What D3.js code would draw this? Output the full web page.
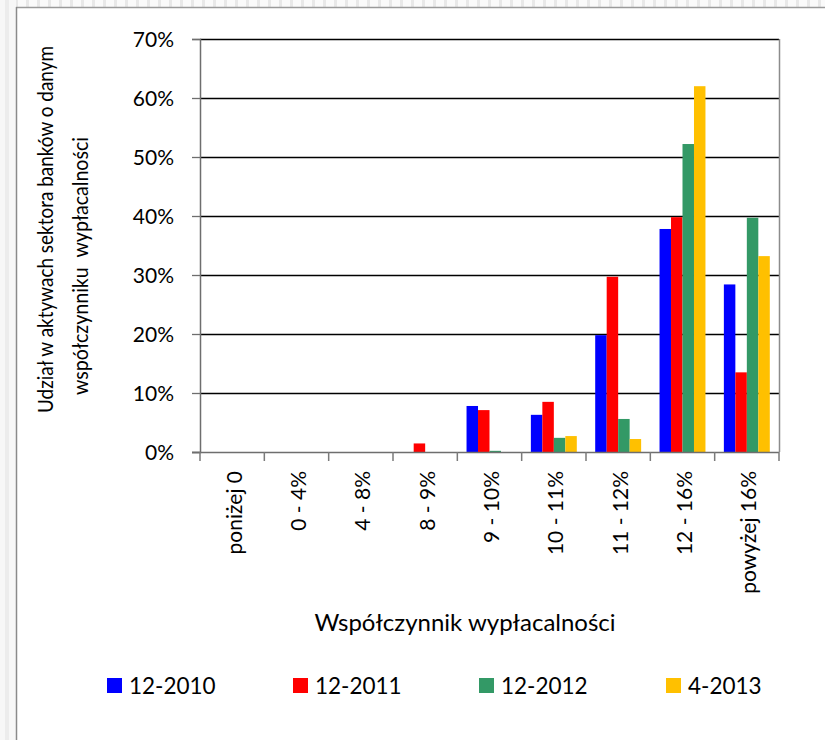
<!DOCTYPE html>
<html>
<head>
<meta charset="utf-8">
<script src="https://cdn.jsdelivr.net/npm/d3@7"></script>
<style>
  html, body { margin: 0; padding: 0; background: #fff; }
  svg { display: block; }
  text { font-family: Lato, "Open Sans", sans-serif; fill: #000; }
</style>
</head>
<body>
<svg id="chart" width="825" height="740"></svg>
<script>
// Bucket labels for the solvency ratio
const categories = ["poniżej 0", "0 - 4%", "4 - 8%", "8 - 9%", "9 - 10%", "10 - 11%", "11 - 12%", "12 - 16%", "powyżej 16%"];

// Share of banking-sector assets per bucket (percent), one array per date
const series = ["12-2010", "12-2011", "12-2012", "4-2013"];
const values2010_12 = [0, 0, 0, 0, 7.8, 6.3, 19.8, 37.8, 28.4];
const values2011_12 = [0, 0, 0, 1.45, 7.1, 8.5, 29.7, 39.8, 13.5];
const values2012_12 = [0, 0, 0, 0, 0.2, 2.4, 5.6, 52.2, 39.7];
const values2013_04 = [0, 0, 0, 0, 0, 2.7, 2.2, 62.0, 33.2];
const seriesValues = [values2010_12, values2011_12, values2012_12, values2013_04];
const colors = ["#0000ff", "#ff0000", "#339966", "#ffc000"];

const yTicks = [0, 10, 20, 30, 40, 50, 60, 70];
const yTitleLines = ["Udział w aktywach sektora banków o danym", "współczynniku  wypłacalności"];
const xTitle = "Współczynnik wypłacalności";

const svg = d3.select("#chart");

// Outer frame with a light patterned margin
const defs = svg.append("defs");
const pat = defs.append("pattern").attr("id", "stripes")
  .attr("width", 11).attr("height", 11).attr("patternUnits", "userSpaceOnUse");
pat.append("rect").attr("width", 11).attr("height", 11).attr("fill", "#fafafa");
pat.append("rect").attr("x", 4).attr("width", 3).attr("height", 11).attr("fill", "#e8e8e8");
svg.append("rect").attr("x", 0).attr("y", 0).attr("width", 825).attr("height", 7).attr("fill", "url(#stripes)");
svg.append("rect").attr("x", 0).attr("y", 0).attr("width", 16).attr("height", 740).attr("fill", "#f7f7f7");
svg.append("rect").attr("x", 5).attr("y", 0).attr("width", 4).attr("height", 740).attr("fill", "#ececec");
svg.append("line").attr("x1", 16).attr("x2", 825).attr("y1", 7.5).attr("y2", 7.5)
  .attr("stroke", "#9a9a9a").attr("stroke-width", 1.5);
svg.append("line").attr("x1", 16.5).attr("x2", 16.5).attr("y1", 7).attr("y2", 740)
  .attr("stroke", "#8a8a8a").attr("stroke-width", 1.5);

// Plot area
const plotLeft = 200, plotRight = 779, plotTop = 39, plotBottom = 452;

const x0 = d3.scaleBand().domain(categories).range([plotLeft, plotRight]).padding(0);
const inset = 9.2;
const x1 = d3.scaleBand().domain(series).range([inset, x0.bandwidth() - inset]).padding(0);
const y = d3.scaleLinear().domain([0, 70]).range([plotBottom, plotTop]);

// Horizontal gridlines
svg.append("g").selectAll("line")
  .data(yTicks.filter(t => t > 0))
  .join("line")
  .attr("x1", plotLeft).attr("x2", plotRight)
  .attr("y1", d => Math.round(y(d)) + 0.5).attr("y2", d => Math.round(y(d)) + 0.5)
  .attr("stroke", "#000").attr("stroke-width", 1.3);

// Right edge of plot area
svg.append("line").attr("x1", plotRight + 0.5).attr("x2", plotRight + 0.5)
  .attr("y1", plotTop).attr("y2", plotBottom)
  .attr("stroke", "#8c8c8c").attr("stroke-width", 1.5);

// Bars
const barData = [];
categories.forEach((c, i) => {
  series.forEach((s, j) => {
    barData.push({ cat: c, ser: s, val: seriesValues[j][i], color: colors[j] });
  });
});
svg.append("g").selectAll("rect")
  .data(barData.filter(d => d.val > 0))
  .join("rect")
  .attr("x", d => x0(d.cat) + x1(d.ser))
  .attr("width", x1.bandwidth())
  .attr("y", d => y(d.val))
  .attr("height", d => y(0) - y(d.val))
  .attr("fill", d => d.color);

// Y axis
const yAxis = d3.axisLeft(y).tickValues(yTicks).tickFormat(d => d + "%").tickSize(8).tickPadding(18);
const gy = svg.append("g").attr("transform", `translate(${plotLeft},0)`).call(yAxis);
gy.select(".domain").attr("stroke", "#6e6e6e").attr("stroke-width", 1.5);
gy.selectAll(".tick line").attr("stroke", "#6e6e6e").attr("stroke-width", 1.3);
gy.selectAll(".tick text").style("font-size", "21px").attr("dy", "0.36em").attr("fill", "#000");

// X axis baseline and boundary ticks
const gx = svg.append("g").attr("transform", `translate(0,${plotBottom})`);
gx.append("line").attr("x1", plotLeft - 8).attr("x2", plotRight).attr("y1", 0.5).attr("y2", 0.5)
  .attr("stroke", "#6e6e6e").attr("stroke-width", 1.5);
const boundaries = categories.map(c => x0(c)).concat([plotRight]);
gx.selectAll("line.tk").data(boundaries).join("line").attr("class", "tk")
  .attr("x1", d => d).attr("x2", d => d).attr("y1", 0).attr("y2", 9)
  .attr("stroke", "#7a7a7a").attr("stroke-width", 1.5);

// Rotated category labels
gx.selectAll("text.cat").data(categories).join("text").attr("class", "cat")
  .attr("transform", d => `translate(${x0(d) + x0.bandwidth() / 2 + 2},19) rotate(-90)`)
  .attr("text-anchor", "end")
  .attr("dy", "0.36em")
  .style("font-size", "21px")
  .text(d => d);

// Axis titles
svg.append("text")
  .attr("x", 465).attr("y", 631)
  .attr("text-anchor", "middle")
  .style("font-size", "24px")
  .text(xTitle);

// Two-line vertical title, set in a condensed width
const yTitleX = [53, 88];
const yTitleY = [229.5, 266];
const yTitleLen = [367, 258];
yTitleLines.forEach((line, i) => {
  svg.append("text")
    .attr("transform", `translate(${yTitleX[i]},${yTitleY[i]}) rotate(-90)`)
    .attr("text-anchor", "middle")
    .attr("xml:space", "preserve")
    .attr("textLength", yTitleLen[i])
    .attr("lengthAdjust", "spacingAndGlyphs")
    .style("white-space", "pre")
    .style("font-size", "21px")
    .text(line);
});

// Legend
const legendX = [107, 293, 479, 666];
const lg = svg.append("g").selectAll("g").data(series).join("g")
  .attr("transform", (d, i) => `translate(${legendX[i]},678)`);
lg.append("rect").attr("width", 15).attr("height", 15).attr("fill", (d, i) => colors[i]);
lg.append("text").attr("x", 22).attr("y", 15.5).style("font-size", "22.5px").text(d => d);
</script>
</body>
</html>
